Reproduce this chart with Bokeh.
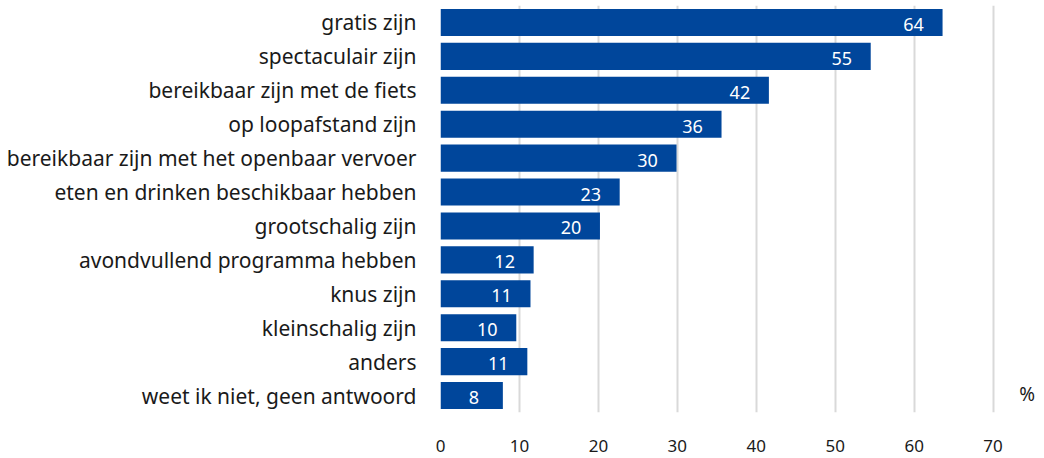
from bokeh.plotting import figure
from bokeh.models import ColumnDataSource, Range1d, FactorRange, Label, LabelSet, FixedTicker
from bokeh.core.properties import value
from bokeh.embed import file_html
from bokeh.resources import INLINE

categories = [
    "gratis zijn",
    "spectaculair zijn",
    "bereikbaar zijn met de fiets",
    "op loopafstand zijn",
    "bereikbaar zijn met het openbaar vervoer",
    "eten en drinken beschikbaar hebben",
    "grootschalig zijn",
    "avondvullend programma hebben",
    "knus zijn",
    "kleinschalig zijn",
    "anders",
    "weet ik niet, geen antwoord",
]
values = [63.6, 54.5, 41.6, 35.6, 29.9, 22.7, 20.2, 11.8, 11.4, 9.6, 11.0, 7.9]
labels = ["64", "55", "42", "36", "30", "23", "20", "12", "11", "10", "11", "8"]
x_ticks = [0, 10, 20, 30, 40, 50, 60, 70]

FONT = "Noto Sans"
BLUE = "#00469B"
TXT = "#1a1a1a"

src = ColumnDataSource(dict(cat=categories, val=values, lab=labels))

p = figure(
    width=1040, height=456,
    y_range=FactorRange(factors=list(reversed(categories)), range_padding=0),
    x_range=Range1d(0, 75.5),
    output_backend="svg", toolbar_location=None,
    min_border_left=440, min_border_right=4, min_border_top=5, min_border_bottom=44,
)
p.hbar(y="cat", right="val", left=0, height=0.8, source=src, color=BLUE, line_color=None)

p.add_layout(LabelSet(x="val", y="cat", text="lab", source=src, x_offset=-29, y_offset=-2,
                      text_align="center", text_baseline="middle", text_color="white",
                      text_font=value(FONT), text_font_size="18px"))

# bottom category sits at synthetic coordinate 0.5
p.add_layout(Label(x=70, y=0.5, x_offset=34, y_offset=2, text="%",
                   text_align="center", text_baseline="middle", text_color=TXT,
                   text_font=FONT, text_font_size="19px"))

p.xaxis.ticker = FixedTicker(ticks=x_ticks)
p.xgrid.ticker = FixedTicker(ticks=x_ticks)
p.xgrid.grid_line_color = "#d9d9d9"
p.xgrid.grid_line_width = 2
p.ygrid.grid_line_color = None
p.outline_line_color = None

for ax in (p.xaxis, p.yaxis):
    ax.axis_line_color = None
    ax.major_tick_line_color = None
    ax.minor_tick_line_color = None
    ax.major_tick_out = 0
    ax.major_tick_in = 0
    ax.major_label_text_font = FONT
    ax.major_label_text_color = TXT

p.xaxis.major_label_text_font_size = "17px"
p.xaxis.major_label_standoff = 27
p.yaxis.major_label_text_font_size = "21px"
p.yaxis.major_label_standoff = 24

open("out.html", "w").write(file_html(p, INLINE))
